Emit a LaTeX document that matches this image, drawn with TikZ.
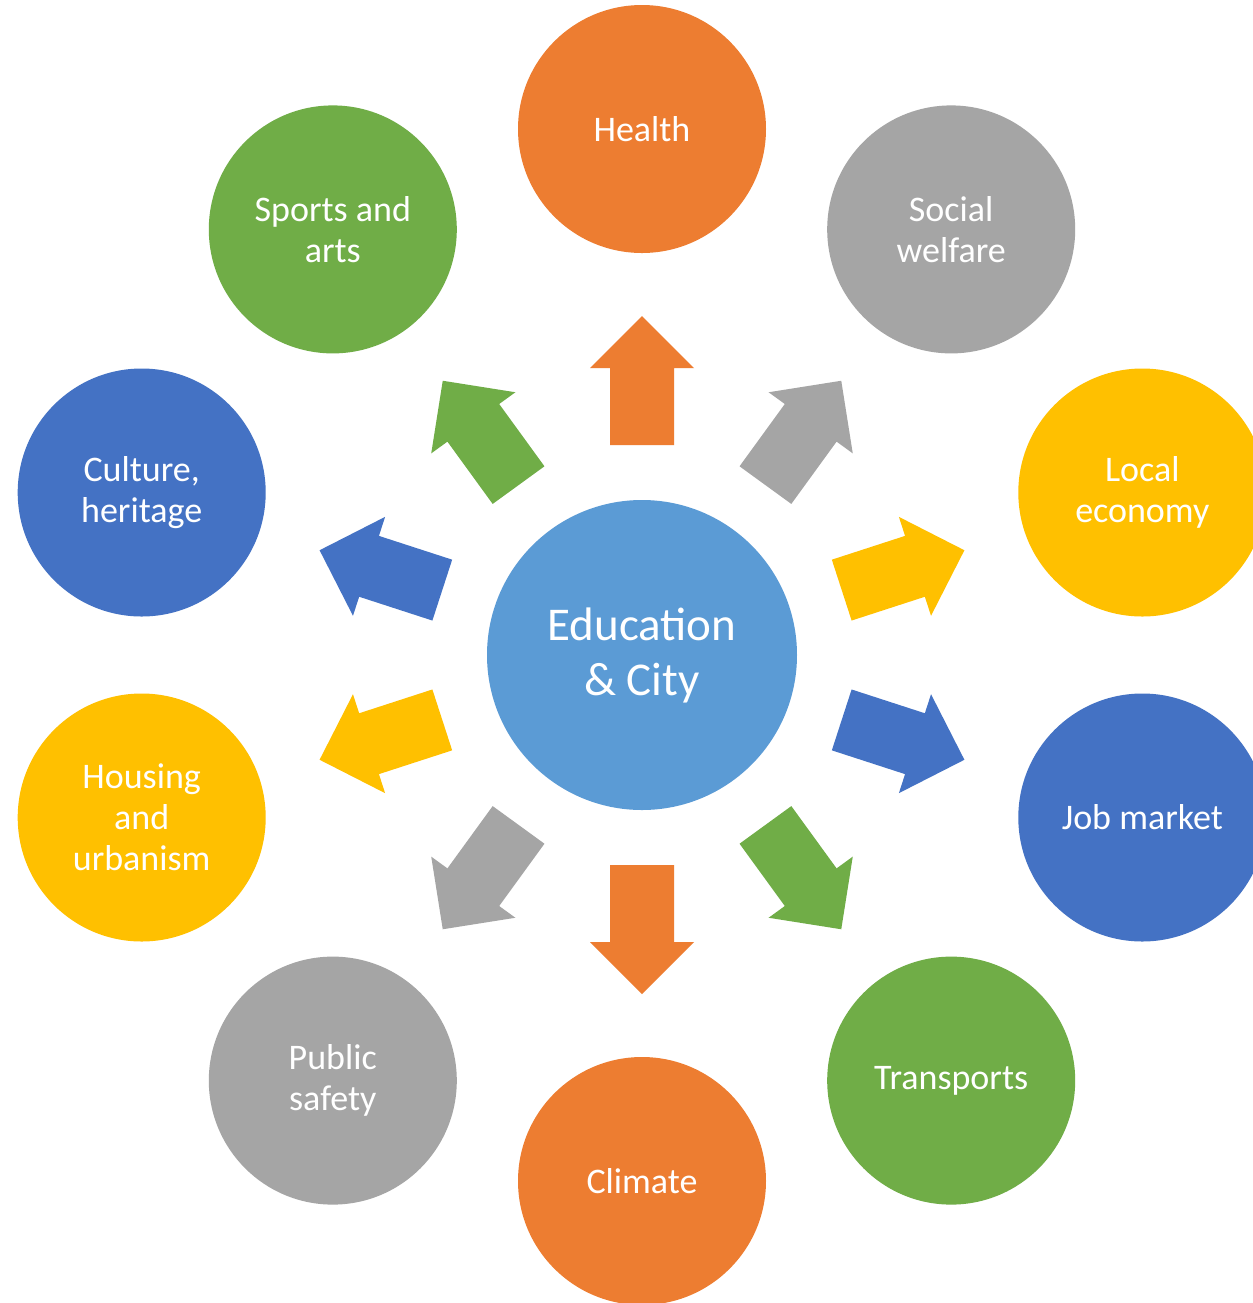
\documentclass[tikz,border=0pt]{standalone}
\usepackage{fontspec}
\setmainfont{Carlito}
\definecolor{cOrange}{HTML}{ED7D31}
\definecolor{cGray}{HTML}{A5A5A5}
\definecolor{cYellow}{HTML}{FFC000}
\definecolor{cBlue}{HTML}{4472C4}
\definecolor{cGreen}{HTML}{70AD47}
\definecolor{cCenter}{HTML}{5B9BD5}
\tikzset{
  outer/.style={circle, fill=#1, minimum size=124pt, inner sep=0pt, text=white, align=center,
    font=\fontsize{18}{20.5}\selectfont},
  hub/.style={circle, fill=cCenter, minimum size=155pt, inner sep=0pt, text=white, align=center,
    font=\fontsize{23.5}{27.5}\selectfont},
  blockarrow/.style={fill=#1, draw=none}
}
\begin{document}
\begin{tikzpicture}[x=0.5pt,y=-0.5pt]
\useasboundingbox (0,0) rectangle (1253,1303);
\clip (0,0) rectangle (1253,1303);
\fill[white] (0,0) rectangle (1253,1303);
\coordinate (C) at (642,655);
\node[hub] (center) at (C) {Education\\\& City};
\node[outer=cOrange] (health) at (642,129) {Health};
\node[outer=cGray] (social) at (951.2,229.4) {Social\\welfare};
\node[outer=cYellow] (local) at (1142.3,492.5) {Local\\economy};
\node[outer=cBlue] (job) at (1142.3,817.5) {Job market};
\node[outer=cGreen] (transports) at (951.2,1080.6) {Transports};
\node[outer=cOrange] (climate) at (642,1181) {Climate};
\node[outer=cGray] (safety) at (332.8,1080.6) {Public\\safety};
\node[outer=cYellow] (housing) at (141.7,817.5) {Housing\\and\\urbanism};
\node[outer=cBlue] (culture) at (141.7,492.5) {Culture,\\heritage};
\node[outer=cGreen] (sports) at (332.8,229.4) {Sports and\\arts};
\foreach \i/\col in {0/cOrange,1/cGray,2/cYellow,3/cBlue,4/cGreen,5/cOrange,6/cGray,7/cYellow,8/cBlue,9/cGreen}{
  \begin{scope}[shift={(C)}, rotate=-36*\i]
    \fill[blockarrow=\col] (-32,-210) -- (-32,-287) -- (-52,-287) -- (0,-339) -- (52,-287) -- (32,-287) -- (32,-210) -- cycle;
  \end{scope}
}
\end{tikzpicture}
\end{document}
